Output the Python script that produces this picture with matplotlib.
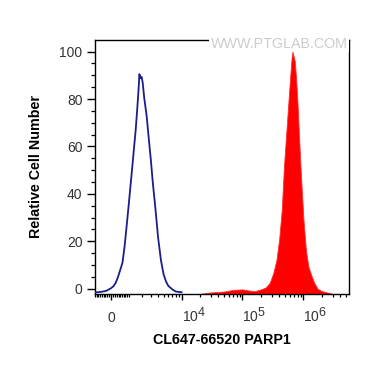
import numpy as np
import matplotlib
matplotlib.use("Agg")
import matplotlib.pyplot as plt
import matplotlib._mathtext as _mt

# larger superscripts (reference exponents are nearly full size)
_mt.SHRINK_FACTOR = 0.9

plt.rcParams['font.family'] = ['Liberation Sans', 'DejaVu Sans']
plt.rcParams['mathtext.fontset'] = 'custom'
plt.rcParams['mathtext.rm'] = 'Liberation Sans'

# ---- data ----
blue_x = [-900, -500, -250, 0, 125, 250, 375, 500, 625, 750, 875, 1000, 1125, 1250, 1375,
          1500, 1625, 1750, 1800, 1900, 2000, 2100, 2250, 2500, 2750, 3000, 3250, 3500,
          3750, 4000, 4500, 5000, 5500, 6000, 7000, 8000, 10000]
blue_y = [-1.6, -1.3, -0.9, 0.2, 1, 2.5, 5, 8, 11, 18, 26.5, 35, 43.5, 51.5, 59.5,
          67, 76, 85.5, 90.5, 88.8, 89.3, 87, 80.5, 73, 63, 54, 44.5, 37,
          29.5, 22, 12, 6, 3, 1.2, -0.3, -1.2, -1.5]

red_x = [2e4, 3e4, 5e4, 7e4, 1e5, 1.3e5, 1.6e5, 2e5, 2.4e5, 2.8e5, 3.2e5, 3.6e5, 4e5,
         4.4e5, 4.8e5, 5.2e5, 5.6e5, 6e5, 6.4e5, 6.6e5, 7.2e5, 7.6e5, 8e5, 8.5e5, 9e5,
         1e6, 1.1e6, 1.2e6, 1.35e6, 1.5e6, 1.7e6, 2e6, 3e6]
red_y = [-2.2, -1.6, -1.2, -0.5, -0.3, -0.8, -1.0, -0.3, 0.5, 2.5, 6.6, 12, 21,
         33, 52, 65, 77, 88, 97.5, 100, 96, 88, 78, 63, 50,
         29, 16, 9.5, 5.5, 2.5, 0, -1.0, -2.2]

x_major = [0, 1e4, 1e5, 1e6]
x_major_labels = ['0', r'$\mathregular{10^{4}}$', r'$\mathregular{10^{5}}$', r'$\mathregular{10^{6}}$']
y_major = [0, 20, 40, 60, 80, 100]

x_label = 'CL647-66520 PARP1'
y_label = 'Relative Cell Number'
watermark = 'WWW.PTGLAB.COM'

X_MIN, X_MAX = -897, 5.58e6
Y_MIN, Y_MAX = -2.24, 104.9

# ---- biexponential-like scale ----
C = 1400.0
def fwd(x):
    return np.arcsinh(np.asarray(x, dtype=float) / C) / np.log(10)
def inv(y):
    return C * np.sinh(np.asarray(y, dtype=float) * np.log(10))

fig = plt.figure(figsize=(3.74, 3.65), dpi=100)
ax = fig.add_axes([95/374, 1-294/365, 254/374, 254/365])
ax.set_xscale('function', functions=(fwd, inv))

ax.fill_between(red_x, red_y, Y_MIN, color='#ff0000', linewidth=0.6, edgecolor='#ff3030', zorder=2)
ax.plot(blue_x, blue_y, color='#1c1c8a', linewidth=1.3, zorder=3, solid_joinstyle='round')

ax.set_xlim(X_MIN, X_MAX)
ax.set_ylim(Y_MIN, Y_MAX)

# ticks
minor_x = [v for v in range(-900, 1001, 100) if v != 0] + list(range(2000, 10000, 1000))
for d in (4, 5):
    minor_x += [k * 10**d for k in range(2, 10)]
minor_x += [2e6, 3e6, 4e6, 5e6]
ax.set_xticks(x_major, x_major_labels, va='baseline', fontsize=10, color='#333333')
ax.set_xticks(minor_x, minor=True)
for lab in ax.get_xticklabels()[1:]:
    lab.set_ha('left')
ax.set_yticks(y_major, [str(v) for v in y_major], fontsize=10, color='#333333')
ax.set_yticks(np.arange(0, 105, 5), minor=True)

ax.tick_params(axis='x', which='major', direction='out', length=4.5, width=1, pad=15.5)
ax.tick_params(axis='x', which='minor', direction='out', length=2.3, width=0.9)
ax.tick_params(axis='y', which='major', direction='out', length=5.8, width=1, pad=3.2)
ax.tick_params(axis='y', which='minor', direction='out', length=2.9, width=0.9)

for s in ax.spines.values():
    s.set_linewidth(1)
    s.set_color('black')

ax.set_xlabel(x_label, fontsize=10.3, fontweight='bold', va='center')
ax.xaxis.set_label_coords(0.5, -46/254)
ax.set_ylabel(y_label, fontsize=10.3, fontweight='bold', va='center', ha='center')
ax.yaxis.set_label_coords(-59/254, 0.5)

fig.text(279/374, 1-44/365, watermark, color='#cccccc', fontsize=10.3, ha='center', va='center',
         bbox=dict(facecolor='white', edgecolor='none', pad=1.0), zorder=10)

fig.savefig('out.png', dpi=100, facecolor='white')
